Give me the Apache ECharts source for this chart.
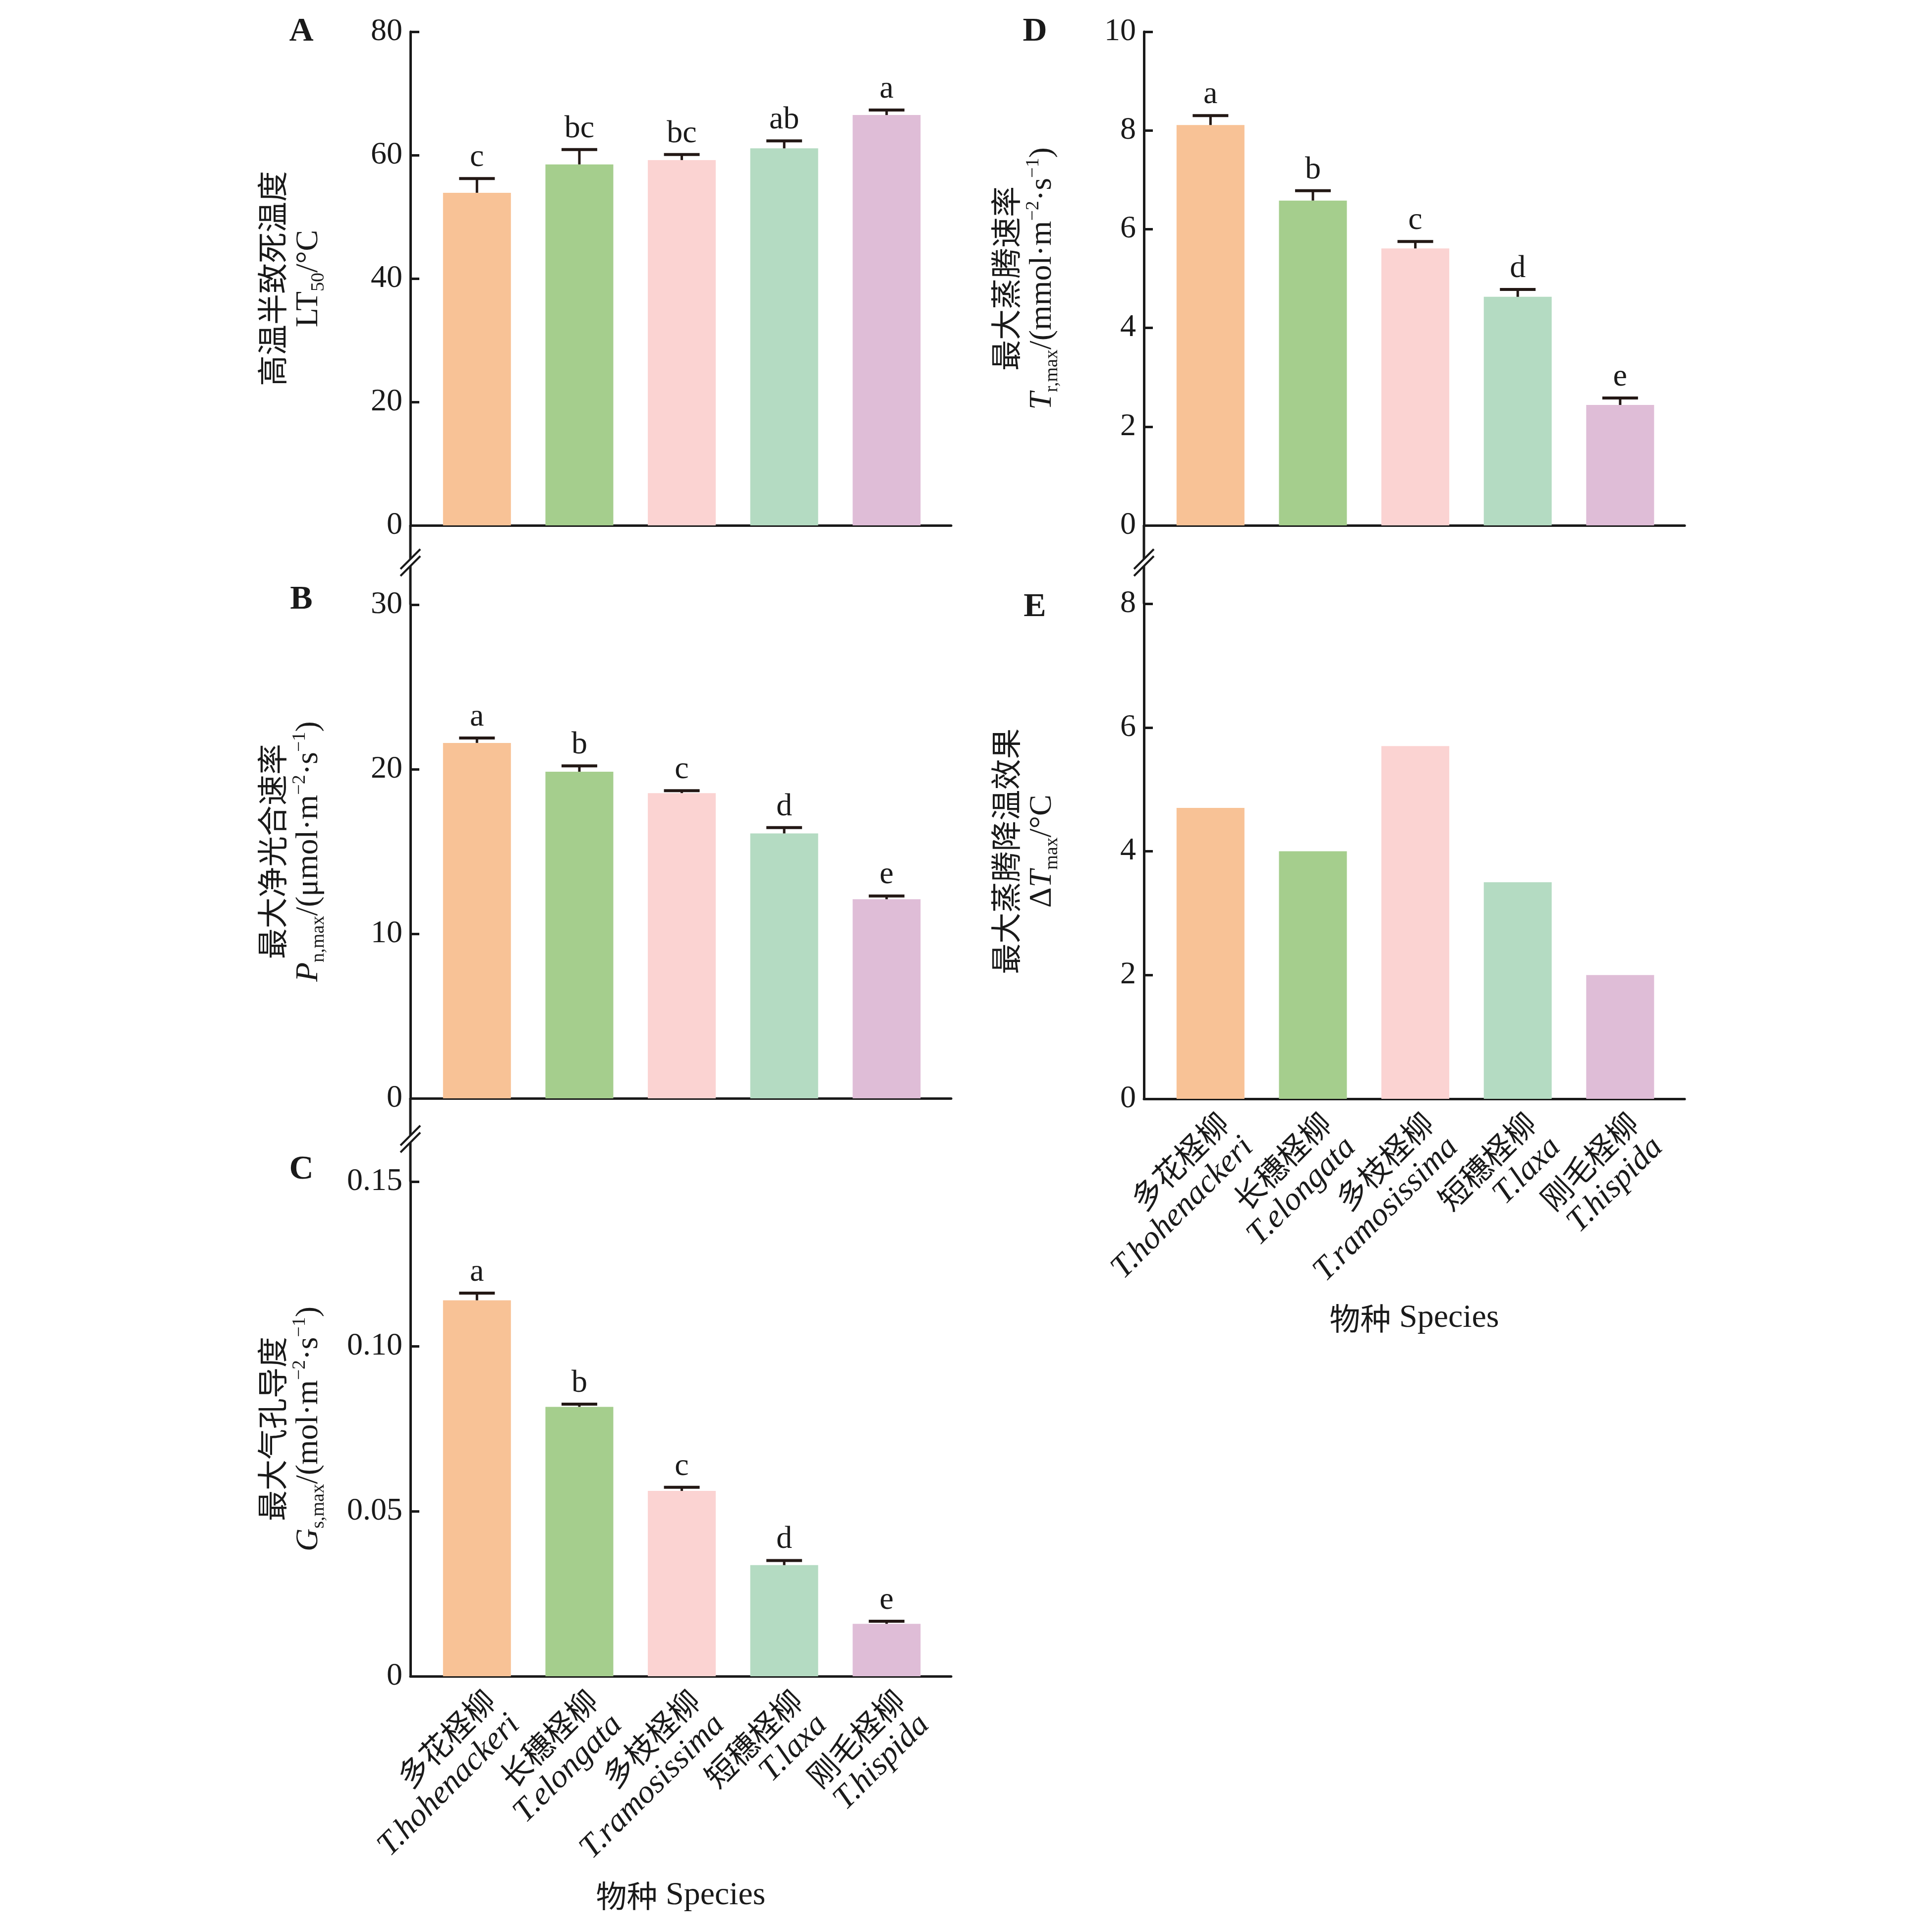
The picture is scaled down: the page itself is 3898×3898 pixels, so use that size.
<!DOCTYPE html>
<html>
<head>
<meta charset="utf-8">
<title>柽柳属物种耐热与蒸腾降温</title>
<script src="https://cdn.jsdelivr.net/npm/echarts@6.0.0/dist/echarts.min.js"></script>
<style>
html, body { margin: 0; padding: 0; background: #fff; }
#main { width: 3898px; height: 3898px; }
</style>
</head>
<body>
<div id="main"></div>
<script>
// 物种
var speciesCn = ['多花柽柳', '长穗柽柳', '多枝柽柳', '短穗柽柳', '刚毛柽柳'];
var speciesLa = ['T.hohenackeri', 'T.elongata', 'T.ramosissima', 'T.laxa', 'T.hispida'];

// A 高温半致死温度 LT50
var lt50 = [53.9, 58.5, 59.2, 61.1, 66.5];
var lt50Err = [2.3, 2.4, 0.9, 1.2, 0.8];
var lt50Sig = ['c', 'bc', 'bc', 'ab', 'a'];
var lt50Ticks = { max: 80, interval: 20 };

// B 最大净光合速率 Pn,max
var pn = [21.6, 19.85, 18.55, 16.1, 12.1];
var pnErr = [0.3, 0.35, 0.15, 0.35, 0.2];
var pnSig = ['a', 'b', 'c', 'd', 'e'];
var pnTicks = { max: 30, interval: 10 };

// C 最大气孔导度 Gs,max
var gs = [0.114, 0.0817, 0.0562, 0.0337, 0.0159];
var gsErr = [0.0022, 0.0008, 0.0011, 0.0014, 0.0008];
var gsSig = ['a', 'b', 'c', 'd', 'e'];
var gsTicks = { max: 0.15, interval: 0.05 };

// D 最大蒸腾速率 Tr,max
var tr = [8.11, 6.58, 5.61, 4.63, 2.44];
var trErr = [0.19, 0.2, 0.14, 0.15, 0.14];
var trSig = ['a', 'b', 'c', 'd', 'e'];
var trTicks = { max: 10, interval: 2 };

// E 最大蒸腾降温效果 ΔTmax
var dt = [4.7, 4.0, 5.7, 3.5, 2.0];
var dtTicks = { max: 8, interval: 2 };

var barColors = ['#f8c296', '#a5ce8d', '#fbd3d2', '#b4dbc2', '#dfbdd7'];

// 版面
var colX = [828, 2308];
var gridW = 1091;
var ink = '#1a1a1a';
var serif = 'Liberation Serif';
var cjk = 'Noto Sans CJK SC';

var panels = [
  { id: 'A', col: 0, top: 64, h: 996, idY: 0, vals: lt50, err: lt50Err, sig: lt50Sig, ticks: lt50Ticks,
    name: '{cn|高温半致死温度}\n{t|LT}{sub|50}{t|/°C}' },
  { id: 'B', col: 0, top: 1220, h: 996, idY: -10, vals: pn, err: pnErr, sig: pnSig, ticks: pnTicks,
    name: '{cn|最大净光合速率}\n{it|P}{sub|n,max}{t|/(μmol·m}{sup|−2}{t|·s}{sup|−1}{t|)}' },
  { id: 'C', col: 0, top: 2384, h: 998, idY: -24, vals: gs, err: gsErr, sig: gsSig, ticks: gsTicks, xLabels: true,
    name: '{cn|最大气孔导度}\n{it|G}{sub|s,max}{t|/(mol·m}{sup|−2}{t|·s}{sup|−1}{t|)}' },
  { id: 'D', col: 1, top: 64, h: 996, idY: 0, vals: tr, err: trErr, sig: trSig, ticks: trTicks,
    name: '{cn|最大蒸腾速率}\n{it|T}{sub|r,max}{t|/(mmol·m}{sup|−2}{t|·s}{sup|−1}{t|)}' },
  { id: 'E', col: 1, top: 1218, h: 999, idY: 7, vals: dt, ticks: dtTicks, xLabels: true,
    name: '{cn|最大蒸腾降温效果}\n{t|Δ}{it|T}{sub|max}{t|/°C}' }
];

var nameRich = {
  cn: { fontFamily: cjk, fontSize: 62, lineHeight: 74, color: ink, verticalAlign: 'middle' },
  t: { fontFamily: serif, fontSize: 64, lineHeight: 74, color: ink, verticalAlign: 'middle' },
  it: { fontFamily: serif, fontSize: 64, fontStyle: 'italic', lineHeight: 74, color: ink, verticalAlign: 'middle' },
  sub: { fontFamily: serif, fontSize: 38, lineHeight: 40, padding: [40, 0, 0, 0], color: ink, verticalAlign: 'middle' },
  sup: { fontFamily: serif, fontSize: 38, lineHeight: 40, padding: [0, 0, 36, 0], color: ink, verticalAlign: 'middle' }
};

function errRender(sig) {
  return function (params, api) {
    var x = api.value(0), m = api.value(1), e = api.value(2);
    var base = api.coord([x, m]);
    var top = api.coord([x, m + e]);
    var half = 36;
    return {
      type: 'group',
      children: [
        { type: 'line', shape: { x1: base[0], y1: base[1], x2: top[0], y2: top[1] },
          style: { stroke: '#231815', lineWidth: 5 } },
        { type: 'line', shape: { x1: top[0] - half, y1: top[1], x2: top[0] + half, y2: top[1] },
          style: { stroke: '#231815', lineWidth: 6 } },
        { type: 'text', x: top[0], y: top[1] - 10,
          style: { text: sig[params.dataIndex], fill: ink, fontFamily: serif, fontSize: 64,
                   align: 'center', verticalAlign: 'bottom' } }
      ]
    };
  };
}

var grids = [], xAxes = [], yAxes = [], series = [], graphics = [];

panels.forEach(function (p, k) {
  grids.push({ left: colX[p.col], top: p.top, width: gridW, height: p.h,
               containLabel: false, outerBoundsMode: 'none' });

  xAxes.push({
    gridIndex: k, type: 'value', min: -0.65, max: 4.63,
    splitLine: { show: false },
    axisTick: { show: false },
    axisLine: { show: true, onZero: false, lineStyle: { color: ink, width: 5 } },
    axisLabel: p.xLabels ? {
      show: true, customValues: [0, 1, 2, 3, 4], rotate: 45, margin: 12,
      align: 'right', verticalAlign: 'top',
      formatter: function (v) {
        var i = Math.round(v);
        return '{cn|' + speciesCn[i] + '}\n{la|' + speciesLa[i] + '}';
      },
      rich: {
        cn: { fontFamily: cjk, fontSize: 62, lineHeight: 72, color: ink, align: 'right' },
        la: { fontFamily: serif, fontSize: 66, fontStyle: 'italic', lineHeight: 72, color: ink, align: 'right' }
      }
    } : { show: false },
    name: p.xLabels ? '{cn|物种}{t| Species}' : '',
    nameLocation: 'middle', nameGap: 410,
    nameTextStyle: { rich: {
      cn: { fontFamily: cjk, fontSize: 62, color: ink },
      t: { fontFamily: serif, fontSize: 66, color: ink }
    } }
  });

  yAxes.push({
    gridIndex: k, type: 'value', min: 0, max: p.ticks.max, interval: p.ticks.interval,
    splitLine: { show: false },
    axisLine: { show: true, onZero: false, lineStyle: { color: ink, width: 5 } },
    axisTick: { show: true, inside: true, length: 18, lineStyle: { color: ink, width: 5 } },
    axisLabel: {
      color: ink, fontFamily: serif, fontSize: 64, margin: 16,
      formatter: function (v) {
        if (p.ticks.interval < 1) return v === 0 ? '0' : v.toFixed(2);
        return String(v);
      }
    },
    name: p.name, nameLocation: 'middle', nameRotate: 90, nameGap: 168,
    nameMoveOverlap: false,
    nameTextStyle: { align: 'center', rich: nameRich }
  });

  series.push({
    type: 'bar', xAxisIndex: k, yAxisIndex: k, barWidth: 137,
    data: p.vals.map(function (v, i) {
      return { value: [i, v], itemStyle: { color: barColors[i] } };
    })
  });

  if (p.err) {
    series.push({
      type: 'custom', xAxisIndex: k, yAxisIndex: k, z: 5, clip: false,
      renderItem: errRender(p.sig),
      data: p.vals.map(function (v, i) { return [i, v, p.err[i]]; })
    });
  }

  graphics.push({
    type: 'text', x: colX[p.col] - 220, y: p.top + p.idY,
    style: { text: p.id, fill: ink, fontFamily: serif, fontWeight: 'bold', fontSize: 68,
             align: 'center', verticalAlign: 'middle' }
  });
});

// 断轴：上一面板的 y 轴延伸到下一面板, 中间画 //
function axisBreak(x, y1, y2, yb) {
  graphics.push({ type: 'line', shape: { x1: x, y1: y1, x2: x, y2: y2 },
                  style: { stroke: ink, lineWidth: 5 } });
  graphics.push({ type: 'rect', shape: { x: x - 8, y: yb - 7, width: 16, height: 14 },
                  style: { fill: '#fff' } });
  [-7, 7].forEach(function (d) {
    graphics.push({ type: 'line',
      shape: { x1: x - 20, y1: yb + d + 20, x2: x + 20, y2: yb + d - 20 },
      style: { stroke: ink, lineWidth: 4 } });
  });
}
axisBreak(colX[0], 1060, 1220, 1135);
axisBreak(colX[0], 2216, 2384, 2298);
axisBreak(colX[1], 1060, 1218, 1135);

var chart = echarts.init(document.getElementById('main'), null, { renderer: 'canvas' });
chart.setOption({
  backgroundColor: '#fff',
  animation: false,
  grid: grids,
  xAxis: xAxes,
  yAxis: yAxes,
  series: series,
  graphic: graphics
});
</script>
</body>
</html>
